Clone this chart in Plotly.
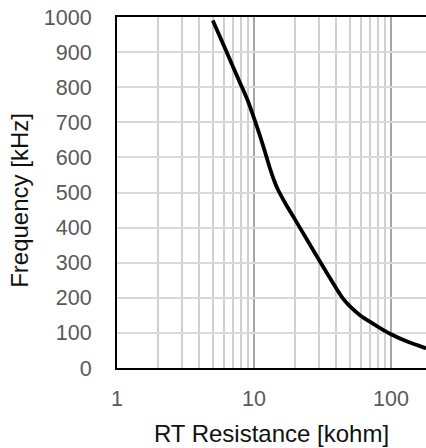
import plotly.graph_objects as go

rt_kohm = [5, 6, 7, 8, 9, 10, 11, 12, 13, 14, 15, 17, 20, 25, 30, 35, 40, 45, 50, 60, 70, 80, 90, 100, 130, 180]
freq_khz = [990, 920, 860, 808, 762, 712, 664, 617, 572, 535, 507, 468, 422, 358, 306, 263, 226, 196, 176, 149, 132, 118, 106, 96, 76, 56]

y_ticks = list(range(0, 1001, 100))
x_ticks = [1, 10, 100]
x_title = "RT Resistance [kohm]"
y_title = "Frequency [kHz]"

fig = go.Figure()
fig.add_trace(go.Scatter(
    x=rt_kohm, y=freq_khz, mode="lines",
    line=dict(color="black", width=3.8, shape="spline", smoothing=0.6),
    showlegend=False, hoverinfo="skip",
))

fig.update_layout(
    width=426, height=448,
    margin=dict(l=117, r=0, t=17, b=80),
    paper_bgcolor="white", plot_bgcolor="white",
    font=dict(family="Liberation Sans, Arial, sans-serif", color="#595959"),
)
fig.update_xaxes(
    type="log", range=[0, 2.2555], automargin=False,
    tickvals=x_ticks, ticktext=[str(v) for v in x_ticks],
    tickfont=dict(size=21.5, color="#595959"),
    showgrid=True, gridcolor="#a6a6a6", gridwidth=1.5,
    minor=dict(dtick="D1", showgrid=True, gridcolor="#d0d0d0", gridwidth=1.5, ticks=""),
    showline=True, linecolor="black", linewidth=2, mirror=True,
    ticks="", ticklabelstandoff=10,
    title=dict(text=x_title, font=dict(size=24, color="#111111")),
    zeroline=False,
)
fig.update_yaxes(
    range=[0, 1000], tickvals=y_ticks, automargin=False,
    tickfont=dict(size=21.5, color="#595959"),
    showgrid=True, gridcolor="#d9d9d9", gridwidth=1.5,
    showline=True, linecolor="black", linewidth=2,
    ticks="", ticklabelstandoff=19,
    zeroline=False,
)
fig.add_annotation(
    text=y_title, textangle=-90, showarrow=False,
    xref="paper", yref="paper", x=-0.314, y=0.479,
    xanchor="center", yanchor="middle",
    font=dict(size=24, color="#111111"),
)
fig.write_html("out.html", post_script="document.body.style.margin='0px';",
               config={"displayModeBar": False})
